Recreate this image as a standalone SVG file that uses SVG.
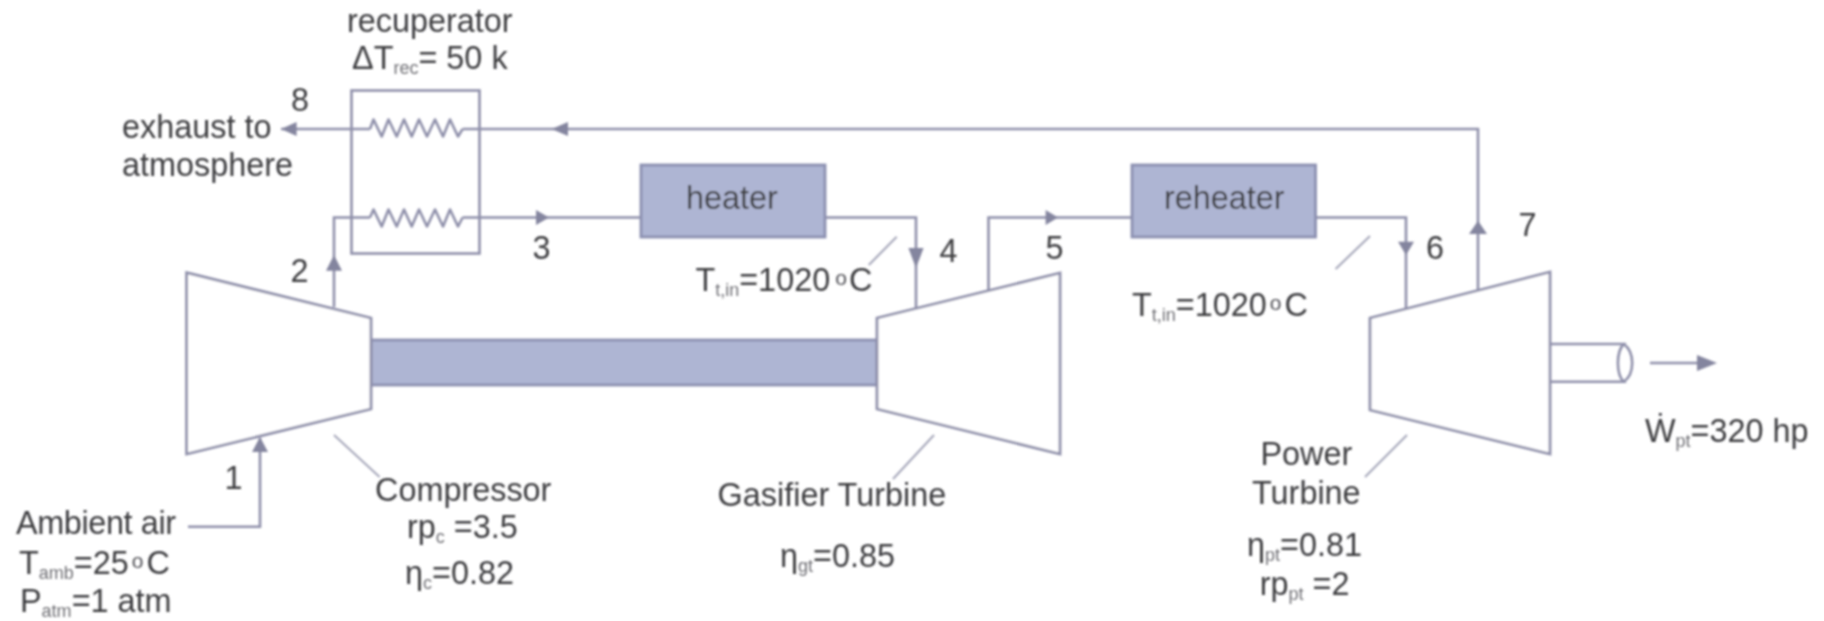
<svg xmlns="http://www.w3.org/2000/svg" width="1824" height="621" viewBox="0 0 1824 621">
<style>
text{font-family:"Liberation Sans",Arial,sans-serif;font-size:32.4px;fill:#3d3d40}
.s{font-size:18px;fill:#707075}
.o{font-size:21px;fill:#505055}
.l{fill:none;stroke:#8f90aa;stroke-width:2.6}
.t{fill:#fff;stroke:#8f90aa;stroke-width:2.8;stroke-linejoin:miter}
.b{fill:#aeb5d3;stroke:#8b8fb0;stroke-width:2.8}
.a{fill:#84859f;stroke:none}
.d{fill:none;stroke:#a9aabc;stroke-width:2.2}
</style>
<defs><filter id="blur" x="-2%" y="-2%" width="104%" height="104%"><feGaussianBlur stdDeviation="0.9"/></filter></defs>
<rect width="1824" height="621" fill="#fff"/>
<g filter="url(#blur)">
<g id="connectors">
<path class="l" d="M281 129H370M462.600 129H1478V291"/>
<path class="l" d="M334 307V217.500H370M462.600 217.500H641"/>
<path class="l" d="M825 217.500H916V308"/>
<path class="l" d="M988.500 290V217.500H1132"/>
<path class="l" d="M1315 217.500H1406V308"/>
<path class="l" d="M188 526.700H260V438"/>
<path class="l" d="M1650 363H1700"/>
<path class="l" stroke-linejoin="round" d="M370 129L373.500 119.500L381.700 136.500L388.500 119.500L396.700 136.500L404 119.500L411.700 136.500L419 119.500L427 136.500L435 119.500L443 136.500L450 119.500L458 136.500L462.600 129"/>
<path class="l" stroke-linejoin="round" d="M370 217.500L373.500 209.500L381.700 226.500L388.500 209.500L396.700 226.500L404 209.500L411.700 226.500L419 209.500L427 226.500L435 209.500L443 226.500L450 209.500L458 226.500L462.600 217.500"/>
<path class="a" d="M281 129L296.600 122V136Z"/>
<path class="a" d="M551.600 129L568 122V136Z"/>
<path class="a" d="M549 217.500L536 210V225Z"/>
<path class="a" d="M334 255L326 270.700H342Z"/>
<path class="a" d="M260 437L252 452H268Z"/>
<path class="a" d="M916 268L908.400 248H923.600Z"/>
<path class="a" d="M1058 217.500L1045.600 210V225Z"/>
<path class="a" d="M1406 255L1398 241.700H1414Z"/>
<path class="a" d="M1478 220.700L1469 234H1487Z"/>
<path class="a" d="M1717 363L1697 355V371Z"/>
<path class="d" d="M334 435L379.600 477"/>
<path class="d" d="M934 435L893 479"/>
<path class="d" d="M1407 435L1365 477"/>
<path class="d" d="M896.700 236.700L868.800 265"/>
<path class="d" d="M1370 236L1335.600 269"/>
</g>
<g id="recuperator">
<rect x="351.500" y="90.500" width="128" height="163" fill="none" stroke="#8f90aa" stroke-width="2.6"/>
<text x="347" y="32">recuperator</text>
<text x="352" y="69">ΔT<tspan class="s" dy="5">rec</tspan><tspan dy="-5">= 50 k</tspan></text>
</g>
<g id="heater">
<rect class="b" x="641" y="165" width="184" height="72"/>
<text x="686" y="209">heater</text>
</g>
<g id="reheater">
<rect class="b" x="1132" y="165" width="183.500" height="72"/>
<text x="1164" y="209">reheater</text>
</g>
<g id="shaft"><rect class="b" x="371" y="340" width="506" height="45"/></g>
<g id="compressor">
<path class="t" d="M186.600 272.700L371 318V409L186.600 454Z"/>
<text x="375" y="500.700">Compressor</text>
<text x="407" y="538">rp<tspan class="s" dy="5">c</tspan><tspan dy="-5"> =3.5</tspan></text>
<text x="405" y="584">η<tspan class="s" dy="5">c</tspan><tspan dy="-5">=0.82</tspan></text>
</g>
<g id="gasifier-turbine">
<path class="t" d="M877 318L1060 273V454L877 409Z"/>
<text x="717.600" y="506">Gasifier Turbine</text>
<text x="780" y="567">η<tspan class="s" dy="5">gt</tspan><tspan dy="-5">=0.85</tspan></text>
</g>
<g id="power-turbine">
<path class="l" d="M1550 344H1623.700C1616 352 1616 374 1623.700 381.700H1550M1623.700 344C1635 352 1635 374 1623.700 381.700"/>
<path class="t" d="M1370 318L1550 272V454L1370 410Z"/>
<text x="1260.500" y="465">Power</text>
<text x="1252" y="504">Turbine</text>
<text x="1247" y="556">η<tspan class="s" dy="5">pt</tspan><tspan dy="-5">=0.81</tspan></text>
<text x="1259.700" y="595">rp<tspan class="s" dy="5">pt</tspan><tspan dy="-5"> =2</tspan></text>
<text x="1645" y="441.700">Ẇ<tspan class="s" dy="5">pt</tspan><tspan dy="-5">=320 hp</tspan></text>
</g>
<g id="labels">
<text x="291" y="111">8</text>
<text x="122" y="137.700">exhaust to</text>
<text x="122" y="175.700">atmosphere</text>
<text x="532.600" y="259">3</text>
<text x="290.600" y="282">2</text>
<text x="224.600" y="489">1</text>
<text x="939.600" y="262">4</text>
<text x="1045.600" y="259">5</text>
<text x="1426" y="259">6</text>
<text x="1518.500" y="236">7</text>
<text x="16" y="534" textLength="160">Ambient air</text>
<text x="19" y="574">T<tspan class="s" dy="5">amb</tspan><tspan dy="-5">=25</tspan><tspan class="o" dx="3" dy="-6">o</tspan><tspan dx="3" dy="6">C</tspan></text>
<text x="20" y="611.700">P<tspan class="s" dy="5">atm</tspan><tspan dy="-5">=1 atm</tspan></text>
<text x="695.400" y="291">T<tspan class="s" dy="5">t,in</tspan><tspan dy="-5">=1020</tspan><tspan class="o" dx="5" dy="-6">o</tspan><tspan dx="2" dy="6">C</tspan></text>
<text x="1132" y="315.700">T<tspan class="s" dy="5">t,in</tspan><tspan dy="-5">=1020</tspan><tspan class="o" dx="3" dy="-6">o</tspan><tspan dx="3" dy="6">C</tspan></text>
</g>
</g>
</svg>
